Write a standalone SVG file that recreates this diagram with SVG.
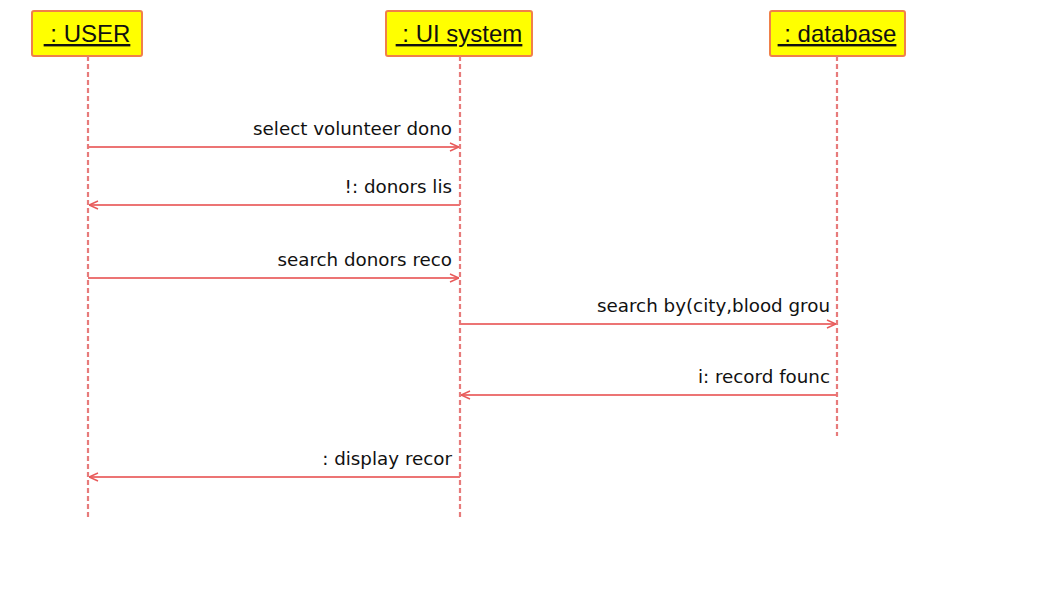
<svg xmlns="http://www.w3.org/2000/svg" width="1060" height="600" viewBox="0 0 1060 600">
<style>
.box{fill:#ffff00;stroke:#f0804a;stroke-width:2}
.hdr{font-family:"Liberation Sans",Arial,sans-serif;font-size:24px;fill:#111;text-anchor:middle;text-decoration:underline}
.life{stroke:#e77b7b;stroke-width:2.2;stroke-dasharray:5 3;fill:none}
.msg{stroke:#ec7474;stroke-width:2;fill:none}
.lbl{font-family:"DejaVu Sans",Verdana,sans-serif;font-size:18.3px;fill:#111;text-anchor:end}
</style>
<defs>
<marker id="arr" viewBox="0 0 10 10" refX="10" refY="5" markerWidth="10" markerHeight="10" markerUnits="userSpaceOnUse" orient="auto">
<path d="M1,1 L10,5 L1,9" fill="none" stroke="#e85a5a" stroke-width="1.5"/>
</marker>
</defs>
<rect width="1060" height="600" fill="#ffffff"/>
<g id="user">
<rect class="box" x="32" y="11" width="110" height="45" rx="2"/>
<text class="hdr" x="87" y="42">&#160;: USER</text>
<line class="life" x1="88" y1="56" x2="88" y2="518"/>
</g>
<g id="ui-system">
<rect class="box" x="386" y="11" width="146" height="45" rx="2"/>
<text class="hdr" x="459" y="42">&#160;: UI system</text>
<line class="life" x1="460" y1="56" x2="460" y2="518"/>
</g>
<g id="database">
<rect class="box" x="770" y="11" width="135" height="45" rx="2"/>
<text class="hdr" x="837" y="42">&#160;: database</text>
<line class="life" x1="837" y1="56" x2="837" y2="436"/>
</g>
<g id="connectors">
<line class="msg" x1="88" y1="147" x2="459" y2="147" marker-end="url(#arr)"/>
<text class="lbl" x="452" y="135">select volunteer dono</text>
<line class="msg" x1="460" y1="205" x2="89" y2="205" marker-end="url(#arr)"/>
<text class="lbl" x="452" y="193">!: donors lis</text>
<line class="msg" x1="88" y1="278" x2="459" y2="278" marker-end="url(#arr)"/>
<text class="lbl" x="452" y="266">search donors reco</text>
<line class="msg" x1="460" y1="324" x2="836" y2="324" marker-end="url(#arr)"/>
<text class="lbl" x="830" y="312">search by(city,blood grou</text>
<line class="msg" x1="837" y1="395" x2="461" y2="395" marker-end="url(#arr)"/>
<text class="lbl" x="830" y="383">i: record founc</text>
<line class="msg" x1="460" y1="477" x2="89" y2="477" marker-end="url(#arr)"/>
<text class="lbl" x="452" y="465">: display recor</text>
</g>
</svg>
